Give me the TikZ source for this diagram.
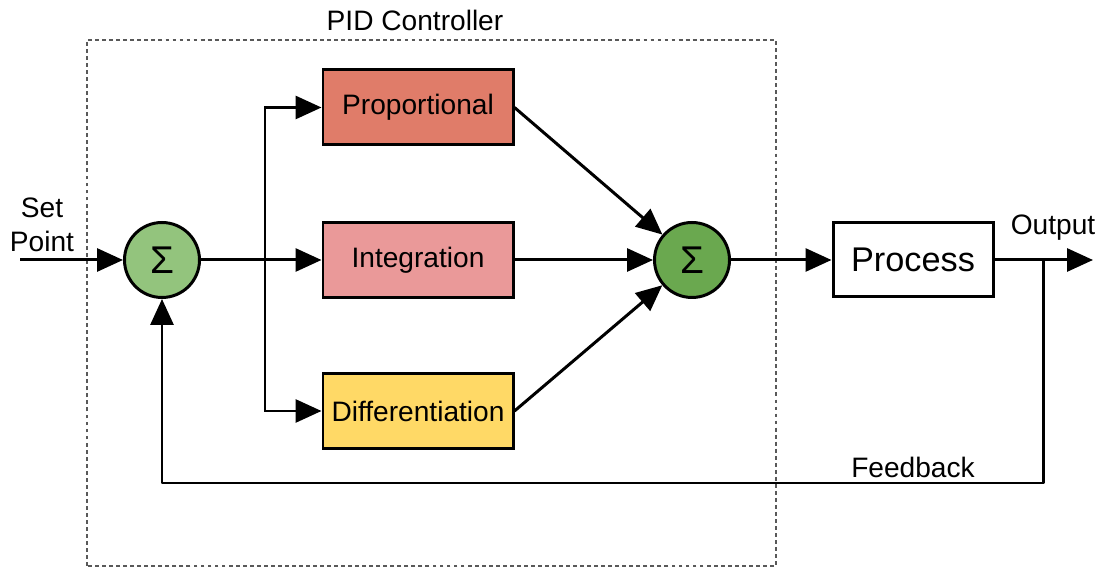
\documentclass[tikz,border=0pt]{standalone}
\usepackage{fontspec}
\setmainfont{Liberation Sans}
\usetikzlibrary{arrows.meta}
\definecolor{propcol}{HTML}{E07C69}
\definecolor{intcol}{HTML}{EA9999}
\definecolor{difcol}{HTML}{FFD966}
\definecolor{sumlight}{HTML}{93C47D}
\definecolor{sumdark}{HTML}{6AA84F}
\begin{document}
\begin{tikzpicture}[
        sig/.style={line width=1.7pt},
        arr/.style={sig,-{Triangle[length=0.52cm,width=0.46cm]}},
        block/.style={draw,line width=1.7pt,minimum width=3.8cm,minimum height=1.5cm,font=\fontsize{16}{19}\selectfont},
        summer/.style={circle,draw,line width=1.7pt,minimum size=1.5cm,inner sep=0pt,font=\fontsize{22}{24}\selectfont},
        lbl/.style={font=\fontsize{16}{19.5}\selectfont,align=center}
    ]
        \useasboundingbox (0,0) rectangle (22.06,11.38);
        \draw [gray!70!black,line width=0.6pt,dash pattern=on 2.2pt off 1.8pt] (1.74,0.06) rectangle (15.52,10.58);
        \node [lbl] (pidlabel) at (8.3,10.98) {PID Controller};
        \node [summer,fill=sumlight] (sumin) at (3.24,6.18) {Σ};
        \node [summer,fill=sumdark] (sumout) at (13.84,6.18) {Σ};
        \node [block,fill=propcol] (prop) at (8.36,9.23) {Proportional};
        \node [block,fill=intcol] (integ) at (8.36,6.18) {Integration};
        \node [block,fill=difcol] (diff) at (8.36,3.16) {Differentiation};
        \node [block,minimum width=3.2cm,minimum height=1.48cm,font=\fontsize{19.5}{22}\selectfont] (process) at (18.26,6.18) {Process};
        \node [lbl] (setpoint) at (0.84,6.88) {Set\\Point};
        \node [lbl] (outlabel) at (21.06,6.82) {Output};
        \node [lbl] (fblabel) at (18.26,2.04) {Feedback};
        \coordinate (input) at (0.4,6.18);
        \coordinate (output) at (21.86,6.18);
        \coordinate (split) at (5.3,6.18);
        \coordinate (tap) at (20.86,6.18);
        \coordinate (fbcorner) at (20.86,1.72);
        \draw [arr] (input) -- (sumin);
        \draw [sig] (sumin) -- (split);
        \draw [arr] (split) -- (integ);
        \draw [arr] (split) |- (prop);
        \draw [arr] (split) |- (diff);
        \draw [arr] (prop.east) -- (sumout);
        \draw [arr] (integ) -- (sumout);
        \draw [arr] (diff.east) -- (sumout);
        \draw [arr] (sumout) -- (process);
        \draw [arr] (process) -- (output);
        \draw [arr,line join=round] (tap) -- (fbcorner) -| (sumin.south);
    \end{tikzpicture}
\end{document}
